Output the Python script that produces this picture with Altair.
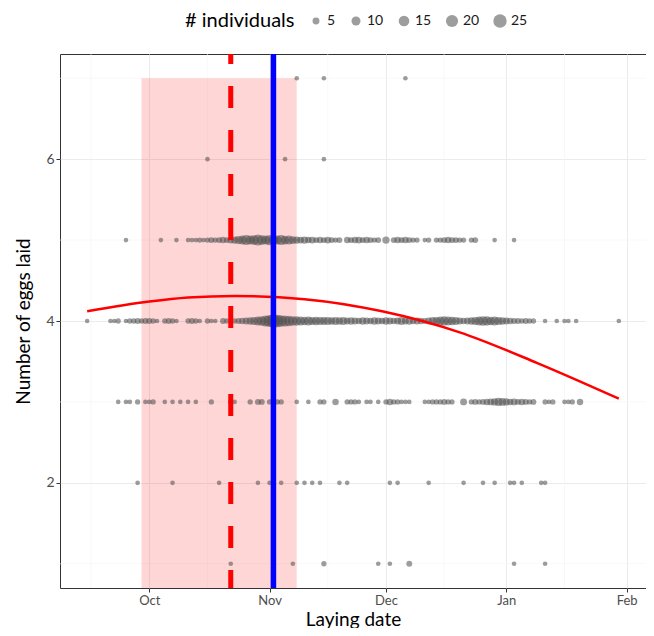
import altair as alt
import pandas as pd

START = pd.Timestamp("2019-10-01")

# Laying date as days after 1 Oct, and number of individuals, per clutch size
eggs1_days = [21, 32, 37, 45, 59, 62, 67, 94, 102]
eggs1_n = [1, 1, 1, 2, 1, 1, 3, 1, 1]

eggs2_days = [-3, 6, 18, 28, 31, 34, 38, 40, 42, 44, 49, 51, 62, 64, 72, 81, 86, 89, 93, 94, 96, 101, 102]
eggs2_n = [1] * 23

eggs3_days = [-8, -6, -5, -3, -1, 0, 1,
              4, 6, 8, 10, 12, 16,
              21, 22, 26, 28, 29, 31, 33, 34, 38, 41, 44, 45, 48,
              51, 52, 53, 54, 56, 57, 59,
              61, 62, 63, 64, 65, 66, 67,
              71, 72, 73, 74, 75, 76, 77, 78,
              81,
              83, 84, 85, 86, 87, 88, 89, 90, 91, 92, 93, 94, 95, 96, 97, 98, 99,
              102, 103, 104, 107, 108, 109, 111]
eggs3_n = [1, 1, 1, 2, 1, 1, 2,
           1, 1, 1, 1, 1, 2,
           2, 1, 2, 3, 3, 2, 2, 2, 1, 1, 2, 2, 4,
           2, 2, 2, 1, 1, 1, 1,
           2, 4, 2, 2, 1, 1, 1,
           1, 1, 2, 2, 2, 3, 2, 2,
           5,
           2, 3, 2, 3, 4, 5, 6, 8, 7, 6, 4, 5, 3, 4, 3, 2, 3,
           2, 1, 2, 1, 1, 2, 4]

eggs4_days = [-16, -10, -9, -8, -6, -5, -4, -3, -2, -1,
              0, 1, 2, 4, 5, 6, 7,
              10, 11, 12, 13,
              15, 16, 17,
              19, 20,
              22, 23, 24, 25, 26, 27, 28, 29, 30, 31,
              32, 33, 34, 35, 36, 37, 38, 39, 40, 41,
              42, 43, 44, 45, 46, 47, 48, 49, 50, 51,
              52, 53, 54, 55, 56, 57, 58, 59, 60, 61,
              62, 63, 64, 65, 66, 67, 68, 69, 70, 71,
              72, 73, 74, 75, 76, 77, 78, 79, 80, 81,
              82, 83, 84, 85, 86, 87, 88, 89, 90, 91,
              92, 93, 94, 95, 96, 97, 98, 99,
              102, 105, 107, 108, 110, 121]
eggs4_n = [1, 1, 1, 2, 1, 2, 2, 3, 2, 3,
           3, 2, 1, 2, 3, 2, 1,
           2, 3, 2, 1,
           2, 1, 1,
           3, 2,
           2, 3, 4, 5, 6, 8, 10, 12, 16, 20,
           25, 22, 18, 16, 14, 12, 11, 10, 9, 10,
           8, 9, 8, 7, 8, 6, 7, 6, 7, 5,
           6, 5, 4, 6, 5, 4, 6, 5, 4, 6,
           5, 4, 5, 7, 5, 6, 4, 5, 4, 3,
           5, 7, 8, 10, 11, 10, 9, 7, 5, 4,
           5, 6, 8, 10, 12, 11, 9, 10, 8, 6,
           5, 4, 3, 3, 2, 3, 2, 2,
           1, 1, 1, 1, 1, 1]

eggs5_days = [-6, 3, 7,
              10, 11, 12, 13, 14, 15, 16, 17, 18, 19,
              20, 21, 22, 23, 24, 25, 26, 27, 28, 29,
              30, 31, 32, 33, 34, 35, 36, 37, 38, 39,
              40, 41, 42, 43, 44, 45, 46, 47, 48, 49,
              51, 52, 53, 54, 55, 56, 57, 58, 59,
              61,
              63, 64, 65, 66, 67, 68, 69,
              71, 72,
              74, 75, 76, 77, 78, 79, 80, 81,
              83, 84,
              89, 94]
eggs5_n = [1, 1, 1,
           1, 1, 1, 2, 1, 2, 3, 2, 3, 4,
           3, 5, 6, 8, 10, 13, 10, 12, 16, 12,
           10, 14, 12, 10, 13, 9, 10, 7, 6, 5,
           6, 4, 5, 3, 4, 3, 5, 3, 2, 3,
           4, 3, 4, 5, 3, 4, 3, 2, 3,
           6,
           3, 4, 3, 4, 3, 2, 2,
           1, 2,
           2, 2, 3, 4, 3, 3, 2, 2,
           2, 3,
           1, 1]

eggs6_days = [15, 35, 45]
eggs6_n = [1, 1, 1]
eggs7_days = [38, 45, 66]
eggs7_n = [1, 1, 1]

# fitted curve (days after 1 Oct, eggs)
curve_days = [-16, 0, 10, 22, 40, 60, 80, 100, 121]
curve_eggs = [4.12, 4.24, 4.29, 4.31, 4.27, 4.12, 3.86, 3.48, 3.04]

# shaded period, mean and reference dates
shade_start, shade_end, shade_top = -2, 38, 7
dashed_day = 21
blue_day = 32

month_ticks = [(2019, 10), (2019, 11), (2019, 12), (2020, 1), (2020, 2)]
minor_x_days = [-15, 15, 46, 76, 107]
minor_y = [1, 3, 5, 7]
major_y = [2, 4, 6]
size_legend = [5, 10, 15, 20, 25]


def to_date(d):
    return (START + pd.Timedelta(days=d)).strftime("%Y-%m-%dT00:00:00")


rows = [(1, eggs1_days, eggs1_n), (2, eggs2_days, eggs2_n), (3, eggs3_days, eggs3_n),
        (4, eggs4_days, eggs4_n), (5, eggs5_days, eggs5_n), (6, eggs6_days, eggs6_n),
        (7, eggs7_days, eggs7_n)]
recs = []
for eggs, ds, ns in rows:
    assert len(ds) == len(ns), (eggs, len(ds), len(ns))
    for d, n in zip(ds, ns):
        recs.append({"date": to_date(d), "eggs": eggs, "n": n})
pts = pd.DataFrame(recs)

curve = pd.DataFrame({"date": [to_date(d) for d in curve_days], "eggs": curve_eggs})
shade = pd.DataFrame({"date": [to_date(shade_start)], "date2": [to_date(shade_end)],
                      "eggs": [shade_top], "eggs2": [0.7]})
dashed = pd.DataFrame({"date": [to_date(dashed_day)]})
blue = pd.DataFrame({"date": [to_date(blue_day)]})
minor_x = pd.DataFrame({"date": [to_date(d) for d in minor_x_days]})
minor_yd = pd.DataFrame({"eggs": minor_y})

FONT = "Lato"
xscale = alt.Scale(domain=[alt.DateTime(year=2019, month=9, date=8),
                           alt.DateTime(year=2020, month=2, date=6)], nice=False)
yscale = alt.Scale(domain=[0.7, 7.3], nice=False, zero=False)
xaxis = alt.Axis(values=[alt.DateTime(year=y, month=m, date=1) for y, m in month_ticks],
                 format="%b", title="Laying date")
yaxis = alt.Axis(values=major_y, title="Number of eggs laid")


def X(field="date"):
    return alt.X(f"{field}:T", scale=xscale, axis=xaxis, title="Laying date")


def Y(field="eggs"):
    return alt.Y(f"{field}:Q", scale=yscale, axis=yaxis, title="Number of eggs laid")


grid_x = alt.Chart(minor_x).mark_rule(color="#f3f3f3", strokeWidth=0.6).encode(x=X())
grid_y = alt.Chart(minor_yd).mark_rule(color="#f3f3f3", strokeWidth=0.6).encode(y=Y())

rect = alt.Chart(shade).mark_rect(color="#ff0000", opacity=0.16).encode(
    x=X(), x2="date2:T", y=Y(), y2="eggs2:Q")

points = alt.Chart(pts).mark_circle(color="#4d4d4d", opacity=0.55).encode(
    x=X(), y=Y(),
    size=alt.Size("n:Q", title="# individuals",
                  scale=alt.Scale(domain=[0, 25], range=[15, 180]),
                  legend=alt.Legend(values=size_legend, orient="none", direction="horizontal",
                                    titleOrient="left", legendX=125, legendY=-40,
                                    symbolType="circle", symbolFillColor="#4d4d4d",
                                    symbolOpacity=0.55, symbolStrokeWidth=0,
                                    titleFontSize=20, titleFontWeight="normal",
                                    titleColor="#000000", labelFontSize=14,
                                    labelColor="#1a1a1a", titlePadding=14,
                                    columnPadding=13, labelOffset=4)))

line = alt.Chart(curve).mark_line(color="#ff0000", strokeWidth=2.5, interpolate="monotone").encode(
    x=X(), y=Y())

dash = alt.Chart(dashed).mark_rule(color="#ff0000", strokeWidth=5,
                                   strokeDash=[22, 22], strokeDashOffset=12).encode(x=X())
vline = alt.Chart(blue).mark_rule(color="#0000ff", strokeWidth=5.5).encode(x=X())

chart = alt.layer(grid_x, grid_y, rect, points, line, dash, vline).properties(
    width=586, height=534,
    autosize=alt.AutoSizeParams(type="none"),
    padding={"left": 52, "top": 46, "right": 0, "bottom": 40}
).configure_view(stroke="#333333", strokeWidth=1).configure_axis(
    domain=False, gridColor="#ebebeb", gridWidth=1, tickColor="#333333", tickSize=4,
    labelFont=FONT, titleFont=FONT, labelFontSize=14, labelColor="#4d4d4d",
    titleFontSize=19, titleFontWeight="normal", titleColor="#000000", labelPadding=2
).configure_axisX(titlePadding=3, labelFontSize=13).configure_axisY(titlePadding=12).configure_legend(
    labelFont=FONT, titleFont=FONT)

chart.save("out.html", embed_options={"renderer": "svg", "actions": False})
